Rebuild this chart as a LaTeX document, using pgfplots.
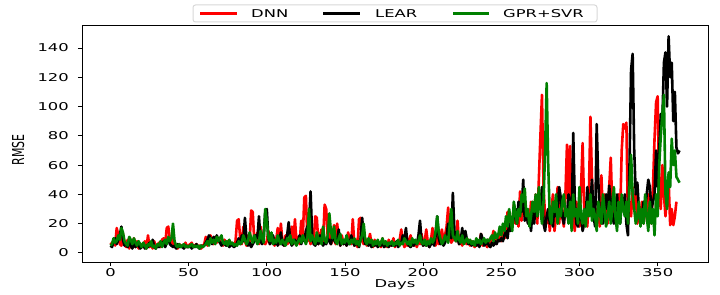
\documentclass[border=0pt]{standalone}
\usepackage{fontspec}
\setmainfont{DejaVu Sans}[FakeStretch=1.52]
\newfontfamily\plainfont{DejaVu Sans}
\usepackage{graphicx}
\usepackage{pgfplots}
\usepackage{pgfplotstable}
\pgfplotsset{compat=1.18}
\definecolor{mplgreen}{RGB}{0,128,0}
\definecolor{mplred}{RGB}{255,0,0}
\definecolor{legframe}{RGB}{215,215,215}

\pgfplotstableread[row sep=\\,header=false]{
7\\6\\9\\5\\17\\12\\6\\5\\13\\6\\
4\\9\\3\\7\\5\\10\\4\\8\\3\\6\\
5\\4\\8\\3\\12\\4\\6\\3\\8\\4\\
5\\7\\4\\9\\10\\6\\17\\18\\8\\5\\
10\\4\\5\\3\\6\\5\\4\\5\\7\\4\\
5\\6\\7\\4\\5\\6\\4\\5\\3\\5\\
6\\11\\5\\9\\12\\8\\6\\11\\7\\10\\
8\\6\\5\\9\\6\\8\\5\\7\\6\\5\\
8\\22\\23\\10\\6\\18\\8\\5\\12\\7\\
29\\28\\8\\10\\14\\6\\18\\11\\7\\6\\
8\\15\\6\\12\\7\\5\\9\\17\\6\\20\\
8\\5\\12\\6\\7\\9\\18\\6\\23\\8\\
11\\6\\22\\10\\38\\39\\8\\12\\6\\10\\
8\\25\\24\\6\\12\\16\\8\\33\\30\\10\\
14\\6\\8\\19\\6\\20\\10\\5\\12\\6\\
8\\5\\14\\9\\6\\23\\5\\9\\4\\23\\
24\\8\\6\\10\\5\\7\\13\\6\\4\\9\\
5\\8\\6\\4\\10\\5\\7\\4\\9\\5\\
6\\10\\4\\7\\8\\9\\16\\8\\4\\6\\
5\\9\\12\\6\\5\\7\\4\\9\\6\\13\\
5\\8\\16\\7\\4\\9\\17\\8\\5\\12\\
6\\10\\16\\8\\12\\18\\31\\10\\7\\9\\
12\\8\\22\\6\\8\\5\\10\\7\\6\\9\\
5\\8\\6\\4\\9\\5\\7\\13\\5\\8\\
6\\4\\9\\7\\10\\15\\6\\8\\13\\9\\
8\\18\\10\\12\\28\\15\\20\\18\\33\\20\\
25\\18\\42\\22\\35\\25\\30\\22\\20\\35\\
25\\29\\40\\20\\50\\80\\108\\45\\25\\20\\
30\\15\\28\\40\\15\\25\\45\\20\\35\\25\\
18\\40\\74\\30\\73\\20\\25\\15\\35\\22\\
18\\45\\75\\30\\25\\18\\40\\93\\50\\25\\
30\\20\\35\\18\\53\\25\\40\\30\\20\\45\\
65\\30\\25\\20\\35\\40\\25\\70\\88\\85\\
89\\20\\35\\25\\45\\30\\40\\20\\30\\25\\
35\\20\\30\\25\\40\\35\\20\\45\\78\\103\\
107\\40\\30\\60\\40\\25\\40\\50\\19\\30\\
19\\25\\35\\
}\dnn

\pgfplotstableread[row sep=\\,header=false]{
5\\4\\8\\10\\6\\9\\12\\18\\9\\5\\
6\\4\\8\\5\\3\\7\\4\\6\\5\\3\\
4\\6\\3\\5\\4\\7\\5\\9\\4\\3\\
5\\4\\6\\5\\8\\4\\7\\10\\6\\5\\
4\\5\\3\\6\\4\\5\\4\\3\\5\\4\\
4\\5\\3\\5\\4\\6\\4\\3\\5\\4\\
5\\7\\9\\12\\10\\6\\11\\8\\12\\9\\
7\\5\\8\\6\\5\\7\\4\\6\\5\\4\\
5\\7\\10\\6\\12\\8\\24\\10\\5\\7\\
4\\6\\8\\12\\10\\25\\8\\6\\12\\28\\
30\\10\\6\\8\\12\\6\\9\\5\\8\\14\\
6\\5\\9\\12\\21\\8\\5\\7\\9\\6\\
8\\12\\6\\10\\8\\15\\18\\20\\42\\12\\
6\\5\\8\\6\\12\\8\\5\\7\\6\\10\\
8\\6\\12\\9\\7\\8\\16\\5\\8\\6\\
9\\5\\7\\6\\12\\8\\5\\6\\8\\4\\
10\\24\\10\\6\\8\\5\\7\\4\\6\\5\\
7\\4\\6\\5\\7\\4\\5\\6\\4\\7\\
5\\6\\5\\8\\4\\6\\7\\12\\9\\17\\
6\\5\\4\\6\\5\\8\\6\\12\\22\\8\\
5\\6\\5\\7\\4\\6\\8\\5\\12\\25\\
10\\6\\8\\5\\7\\12\\20\\15\\10\\41\\
15\\8\\10\\6\\8\\17\\7\\15\\9\\6\\
8\\5\\7\\6\\5\\8\\4\\13\\10\\5\\
6\\9\\5\\4\\7\\5\\8\\6\\9\\8\\
10\\8\\12\\15\\10\\20\\15\\18\\25\\30\\
20\\35\\30\\28\\50\\22\\28\\20\\25\\15\\
30\\20\\35\\25\\40\\30\\45\\20\\15\\25\\
30\\20\\28\\18\\35\\25\\30\\45\\38\\25\\
20\\30\\25\\40\\35\\20\\82\\35\\20\\18\\
30\\25\\15\\20\\25\\45\\30\\35\\50\\25\\
18\\88\\50\\25\\30\\20\\25\\40\\30\\46\\
35\\25\\20\\30\\40\\25\\20\\35\\30\\40\\
20\\12\\60\\125\\136\\70\\40\\48\\30\\20\\
25\\35\\30\\40\\50\\45\\30\\35\\40\\70\\
45\\70\\95\\90\\130\\137\\100\\148\\120\\130\\
90\\110\\72\\68\\70\\
}\lear

\pgfplotstableread[row sep=\\,header=false]{
5\\6\\10\\7\\8\\12\\9\\17\\14\\8\\
6\\5\\11\\9\\6\\10\\7\\5\\8\\6\\
4\\7\\5\\3\\6\\5\\8\\4\\5\\3\\
6\\5\\8\\4\\7\\9\\6\\11\\8\\10\\
20\\8\\5\\4\\6\\4\\5\\6\\4\\5\\
4\\5\\6\\4\\5\\4\\5\\3\\5\\4\\
5\\6\\8\\5\\10\\7\\9\\6\\11\\8\\
10\\12\\7\\6\\8\\5\\9\\6\\7\\5\\
6\\5\\8\\6\\7\\12\\9\\6\\8\\14\\
10\\7\\12\\9\\6\\8\\15\\10\\7\\30\\
22\\10\\8\\14\\6\\9\\7\\12\\8\\6\\
9\\7\\5\\10\\8\\12\\6\\9\\7\\5\\
8\\10\\7\\12\\9\\6\\10\\30\\8\\12\\
9\\6\\14\\8\\10\\6\\18\\9\\7\\12\\
27\\15\\10\\18\\8\\6\\10\\13\\6\\9\\
7\\12\\8\\6\\9\\7\\10\\6\\8\\5\\
9\\12\\20\\8\\6\\10\\7\\9\\5\\8\\
6\\9\\5\\7\\10\\6\\8\\5\\7\\6\\
8\\5\\7\\6\\9\\5\\7\\6\\10\\8\\
6\\8\\5\\10\\7\\9\\6\\8\\12\\7\\
6\\9\\5\\8\\6\\10\\7\\9\\15\\25\\
14\\10\\6\\8\\12\\9\\7\\20\\30\\12\\
10\\8\\15\\9\\7\\12\\6\\8\\10\\7\\
9\\6\\8\\5\\10\\7\\9\\6\\8\\10\\
7\\9\\8\\10\\12\\8\\14\\10\\12\\18\\
12\\20\\15\\25\\18\\30\\22\\15\\35\\28\\
20\\30\\25\\40\\35\\44\\25\\30\\18\\25\\
35\\28\\40\\25\\45\\30\\20\\35\\70\\116\\
60\\25\\20\\35\\28\\40\\20\\30\\25\\35\\
40\\25\\30\\20\\35\\15\\40\\25\\30\\20\\
45\\25\\20\\30\\18\\35\\25\\40\\22\\30\\
25\\15\\35\\28\\20\\40\\30\\18\\25\\35\\
20\\30\\45\\25\\15\\35\\20\\40\\30\\25\\
35\\20\\45\\67\\40\\30\\20\\25\\35\\18\\
30\\20\\40\\25\\15\\35\\20\\30\\12\\40\\
25\\60\\80\\95\\108\\40\\30\\55\\45\\78\\
60\\70\\52\\50\\48\\
}\gprsvr

\begin{document}
\begin{tikzpicture}
\begin{axis}[
  scale only axis,
  width=626bp, height=237bp,
  xmin=-18.2, xmax=382.2,
  ymin=-6.2, ymax=155.7,
  xtick={0,50,...,350},
  ytick={0,20,...,140},
  tick align=outside,
  xtick pos=left, ytick pos=left,
  major tick length=4bp,
  axis line style={line width=0.9bp},
  every tick/.style={black, line width=0.9bp},
  /pgf/number format/assume math mode=true,
  tick label style={font=\fontsize{10.8}{12}\selectfont, inner sep=0pt},
  xticklabel shift=2bp,
  yticklabel shift=9bp,
  xlabel={Days},
  ylabel={\scalebox{1}[1.5]{\plainfont\fontsize{11}{12}\selectfont RMSE}},
  xlabel style={font=\fontsize{10.8}{12}\selectfont, at={(axis description cs:0.5,0)}, anchor=north, yshift=-17bp, inner sep=0pt},
  ylabel style={at={(axis description cs:-0.1022,0.4726)}, anchor=center, inner sep=0pt},
  clip=false,
]
\addplot[mplred, line width=2.6bp, line join=round] table[x expr=\coordindex, y index=0] {\dnn};
\addplot[black, line width=2.6bp, line join=round] table[x expr=\coordindex, y index=0] {\lear};
\addplot[mplgreen, line width=2.6bp, line join=round] table[x expr=\coordindex, y index=0] {\gprsvr};
\end{axis}
% legend box above the axis
\draw[legframe, line width=1bp, rounded corners=2.5bp] (111bp,240bp) rectangle (515bp,257bp);
\draw[mplred, line width=2.2bp] (118bp,248.5bp) -- (155bp,248.5bp);
\draw[black, line width=2.2bp] (241bp,248.5bp) -- (278bp,248.5bp);
\draw[mplgreen, line width=2.2bp] (371bp,248.5bp) -- (407bp,248.5bp);
\node[anchor=west, inner sep=0pt, font=\fontsize{10.8}{12}\selectfont] at (169bp,248.5bp) {DNN};
\node[anchor=west, inner sep=0pt, font=\fontsize{10.8}{12}\selectfont] at (293bp,248.5bp) {LEAR};
\node[anchor=west, inner sep=0pt, font=\fontsize{10.8}{12}\selectfont] at (421bp,248.5bp) {GPR+SVR};
\pgfresetboundingbox
\path[use as bounding box] (-82bp,-33bp) rectangle (638bp,262bp);
\end{tikzpicture}
\end{document}
